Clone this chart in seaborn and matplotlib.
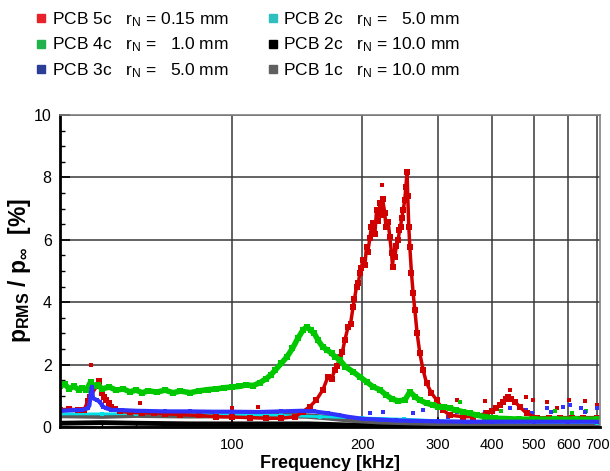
import matplotlib
matplotlib.use('Agg')
import matplotlib.pyplot as plt
import seaborn as sns
from matplotlib.lines import Line2D
from matplotlib.ticker import FixedLocator, NullFormatter, FixedFormatter

# values (frequency in kHz, p_RMS/p_inf in %)
red_f = [40, 42, 44, 45.5, 46.4, 46.9, 48.6, 49.3, 50.0, 50.5, 51.2, 51.9, 52.6, 53.5, 55, 58, 62, 66,
         70, 76, 84, 92, 100, 110, 120, 130, 140, 145.8, 151.3, 156.8, 162.2, 166.6, 170, 172.9, 175,
         177.6, 180, 182.4, 185.6, 188, 190.6, 192, 194.1, 196, 197.5, 199, 201, 203, 204.7, 206, 208.4,
         210, 212.1, 214, 216, 218, 219.8, 221, 223, 225.7, 227, 229.7, 231.7, 233.9, 235.1, 236.5, 238,
         240, 242.3, 244, 245.4, 247, 248.8, 251, 252.4, 254.1, 255, 256.4, 257.8, 260.1, 262.4, 264.8,
         268, 271.9, 276.7, 281.8, 289.3, 297.2, 307.8, 319, 342, 361, 388, 400, 409, 416, 423, 430,
         435, 443, 451, 463, 480, 507, 540, 574, 610, 650, 700]
red_v = [0.55, 0.57, 0.55, 0.56, 0.83, 0.97, 1.3, 1.48, 1.09, 0.96, 0.87, 0.77, 0.65, 0.58, 0.5, 0.47, 0.45,
         0.44, 0.42, 0.4, 0.37, 0.33, 0.32, 0.3, 0.28, 0.28, 0.33, 0.49, 0.65, 0.87, 1.19, 1.6, 1.55, 1.83,
         1.95, 2.25, 2.4, 2.79, 3.21, 3.3, 3.86, 4.1, 4.5, 4.6, 4.93, 5.1, 5.35, 5.2, 5.78, 5.6, 6.05, 6.4,
         6.53, 6.2, 6.95, 6.6, 7.17, 6.8, 7.3, 6.85, 6.4, 6.58, 6.1, 5.57, 5.14, 5.6, 5.46, 5.8, 6.0, 6.3,
         6.42, 6.7, 6.95, 7.28, 7.7, 8.18, 7.4, 6.42, 5.78, 4.93, 4.29, 3.75, 3.01, 2.37, 1.83, 1.41, 1.09,
         0.87, 0.54, 0.38, 0.33, 0.33, 0.44, 0.5, 0.6, 0.7, 0.81, 0.9, 0.97, 0.9, 0.81, 0.65, 0.44, 0.29,
         0.3, 0.3, 0.3, 0.3, 0.3]
red_spike_f = [47.1, 61.1, 100, 114.7, 222.5, 439, 332, 385, 479, 496, 534, 565, 603, 655, 698]
red_spike_v = [2.0, 0.77, 0.6, 0.65, 7.75, 1.19, 0.87, 0.83, 0.97, 0.87, 0.81, 0.6, 0.87, 0.83, 0.71]

green_f = [40, 41, 42, 43, 44.2, 45, 46, 47.1, 48, 49, 50, 52, 54, 56, 58, 60, 62, 64, 67, 70, 73, 76,
           80, 84, 88, 92, 96, 100, 104, 108, 112, 116, 120, 123, 126, 130, 134, 138, 142, 146, 149, 152,
           155, 158, 162, 166, 170, 173, 177.6, 183, 190.6, 197.5, 204.7, 212, 220, 227, 235, 242, 251,
           258, 265, 272, 282, 292, 300, 310, 319, 330, 342, 355, 368, 385, 405, 430, 460, 500, 560, 620,
           700]
green_v = [1.3, 1.38, 1.22, 1.3, 1.2, 1.26, 1.18, 1.45, 1.3, 1.35, 1.22, 1.28, 1.18, 1.22, 1.13, 1.18,
           1.1, 1.16, 1.12, 1.18, 1.1, 1.15, 1.1, 1.16, 1.2, 1.22, 1.26, 1.28, 1.3, 1.35, 1.33, 1.42, 1.55,
           1.67, 1.83, 2.04, 2.25, 2.52, 2.84, 3.11, 3.21, 3.1, 3.0, 2.79, 2.57, 2.47, 2.36, 2.25, 2.15,
           1.93, 1.77, 1.61, 1.45, 1.29, 1.19, 1.03, 0.89, 0.84, 0.86, 1.13, 0.97, 0.86, 0.76, 0.7, 0.65,
           0.65, 0.6, 0.54, 0.49, 0.44, 0.38, 0.33, 0.28, 0.27, 0.25, 0.25, 0.25, 0.25, 0.25]
green_spike_f = [336, 420, 480, 560, 610, 660]
green_spike_v = [0.81, 0.5, 0.45, 0.5, 0.45, 0.5]

blue_f = [40, 43, 45, 46.4, 46.8, 47.1, 47.4, 47.7, 48.6, 49.4, 49.9, 50.3, 51.2, 52.6, 55.8, 60, 70,
          80, 90, 100, 115, 130, 145, 155, 166.6, 177, 185, 201, 220, 240, 260, 300, 350, 400, 500, 600,
          700]
blue_v = [0.52, 0.54, 0.55, 0.6, 0.7, 1.08, 1.29, 0.92, 0.87, 0.81, 0.72, 0.65, 0.6, 0.55, 0.54, 0.52,
          0.5, 0.5, 0.49, 0.49, 0.48, 0.5, 0.52, 0.5, 0.44, 0.38, 0.33, 0.26, 0.24, 0.21, 0.2, 0.18, 0.17,
          0.17, 0.17, 0.17, 0.17]
blue_spike_f = [208, 223, 262, 277, 316, 332, 371, 385, 439, 479, 494, 534, 548, 584, 604, 643, 655, 698]
blue_spike_v = [0.45, 0.47, 0.45, 0.55, 0.33, 0.49, 0.38, 0.49, 0.6, 0.54, 0.44, 0.6, 0.49, 0.65, 0.7,
                0.6, 0.49, 0.6]

cyan_f = [40, 50, 60, 80, 100, 130, 160, 200, 250, 300, 400, 500, 700]
cyan_v = [0.42, 0.42, 0.43, 0.41, 0.4, 0.37, 0.33, 0.29, 0.25, 0.2, 0.17, 0.15, 0.14]

gray_f = [40, 50, 60, 80, 100, 130, 150, 166, 190, 220, 260, 300, 400, 500, 700]
gray_v = [0.37, 0.35, 0.38, 0.36, 0.37, 0.37, 0.35, 0.3, 0.22, 0.17, 0.14, 0.12, 0.1, 0.1, 0.1]

black_f = [40, 50, 60, 80, 100, 150, 170, 200, 300, 500, 700]
black_v = [0.12, 0.14, 0.12, 0.1, 0.1, 0.1, 0.08, 0.05, 0.03, 0.03, 0.03]

labels = ['PCB 5c   r$_\\mathrm{N}$ = 0.15 mm',
          'PCB 4c   r$_\\mathrm{N}$ =   1.0 mm',
          'PCB 3c   r$_\\mathrm{N}$ =   5.0 mm',
          'PCB 2c   r$_\\mathrm{N}$ =   5.0 mm',
          'PCB 2c   r$_\\mathrm{N}$ = 10.0 mm',
          'PCB 1c   r$_\\mathrm{N}$ = 10.0 mm']
legend_colors = ['#e8222a', '#22b24c', '#2a3e98', '#2ebfbf', '#000000', '#606060']

x_ticks = [100, 200, 300, 400, 500, 600, 700]
y_ticks = [0, 2, 4, 6, 8, 10]

sns.set_style('ticks')
plt.rcParams['font.family'] = ['Liberation Sans', 'DejaVu Sans']
plt.rcParams['mathtext.fontset'] = 'custom'
plt.rcParams['mathtext.rm'] = 'Liberation Sans'
plt.rcParams['mathtext.bf'] = 'Liberation Sans:bold'
plt.rcParams['mathtext.it'] = 'Liberation Sans:italic'
for k in ['text.color', 'axes.labelcolor', 'xtick.color', 'ytick.color']:
    plt.rcParams[k] = 'black'

fig = plt.figure(figsize=(6.1, 4.71), dpi=100)
ax = fig.add_axes([60/610, 44/471, 540/610, 312/471])
ax.set_xscale('log')

def band(f, v, color, lw, ms):
    sns.lineplot(x=f, y=v, ax=ax, color=color, linewidth=lw, marker='s', markersize=ms,
                 markeredgewidth=0, sort=False, estimator=None)

def dots(f, v, color):
    sns.scatterplot(x=f, y=v, ax=ax, color=color, marker='s', s=12, linewidth=0)

band(black_f, black_v, '#000000', 3.5, 3)
band(gray_f, gray_v, '#5a5a5a', 4, 3)
band(cyan_f, cyan_v, '#00e0e8', 2, 3)
band(red_f, red_v, '#d00000', 2.5, 4)
dots(red_spike_f, red_spike_v, '#d00000')
band(green_f, green_v, '#00c800', 4, 4)
dots(green_spike_f, green_spike_v, '#00c800')
band(blue_f, blue_v, '#3232ff', 3, 3)
dots(blue_spike_f, blue_spike_v, '#3232ff')

ax.set_xlim(40, 710)
ax.set_ylim(0, 10)
ax.xaxis.set_major_locator(FixedLocator(x_ticks))
ax.xaxis.set_major_formatter(FixedFormatter([str(t) for t in x_ticks]))
ax.xaxis.set_minor_locator(FixedLocator([50, 60, 70, 80, 90]))
ax.xaxis.set_minor_formatter(NullFormatter())
ax.yaxis.set_major_locator(FixedLocator(y_ticks))
ax.yaxis.set_minor_locator(FixedLocator([i * 0.5 for i in range(21)]))
ax.tick_params(axis='both', which='major', direction='in', length=7, width=1.2, colors='black')
ax.tick_params(axis='both', which='minor', direction='in', length=3.5, width=1)
ax.tick_params(axis='x', labelsize=10.5, pad=8)
ax.tick_params(axis='y', labelsize=11.5, pad=6)
ax.grid(True, which='major', color='#383838', linewidth=1.1)
ax.set_axisbelow(True)
for s in ['left', 'bottom']:
    ax.spines[s].set_linewidth(2)
    ax.spines[s].set_color('black')
for s in ['top', 'right']:
    ax.spines[s].set_linewidth(1.2)
    ax.spines[s].set_color('#808080')

ax.set_xlabel('Frequency [kHz]', fontsize=13, fontweight='bold', labelpad=2)
ax.set_ylabel('$\\mathbf{p_{RMS}}$ / $\\mathbf{p_{\\infty}}$  [%]', fontsize=16.5, fontweight='bold', labelpad=1)

handles = [Line2D([], [], marker='s', linestyle='', color=c, markersize=6) for c in legend_colors]
fig.legend(handles, labels, ncol=2, loc='upper left', bbox_to_anchor=(30/610, 1 - 3/471), frameon=False,
           fontsize=12.5, handlelength=0.5, handletextpad=0.35, columnspacing=2.3, labelspacing=0.4,
           borderaxespad=0)

plt.savefig('out.png', dpi=100)
